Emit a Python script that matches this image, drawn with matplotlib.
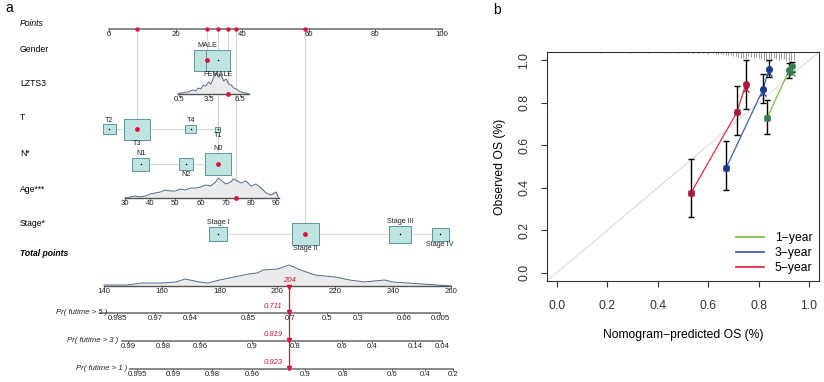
import numpy as np
import matplotlib
matplotlib.use("Agg")
import matplotlib.pyplot as plt
from matplotlib.patches import Rectangle
from matplotlib.lines import Line2D

plt.rcParams['font.family'] = ['Liberation Sans', 'DejaVu Sans']

# ---------------- panel a: nomogram data ----------------
points_ticks = [0, 20, 40, 60, 80, 100]

gender_levels = ['MALE', 'FEMALE']
gender_pts = [29.4, 32.7]
gender_w = [25, 24]
gender_h = [21, 21]
gender_pick = 'MALE'

lzts3_grid = [0.4, 0.65, 0.9, 1.15, 1.4, 1.65, 1.9, 2.15, 2.4, 2.65, 2.9, 3.15, 3.4, 3.65,
              3.9, 4.15, 4.4, 4.65, 4.9, 5.15, 5.4, 5.65, 5.9, 6.15, 6.4, 6.65, 6.9, 7.15, 7.4]
lzts3_dens = [0, 1, 1, 2, 2, 3, 4, 3, 6, 5, 9, 8, 12, 10, 16, 21, 17, 19, 13, 15, 10, 9, 6, 5,
              3, 2, 1, 1, 0]
lzts3_ticks = [0.5, 3.5, 6.5]
lzts3_anchor_val = [0.5, 6.5]
lzts3_anchor_pts = [21.0, 39.3]
lzts3_pick = 5.3

t_levels = ['T2', 'T3', 'T4', 'T1']
t_pts = [0.0, 8.4, 24.6, 32.7]
t_w = [13, 26, 11, 5]
t_h = [10, 21, 8, 5]
t_pick = 'T3'

n_levels = ['N1', 'N2', 'N0']
n_pts = [9.6, 23.1, 32.7]
n_w = [17, 14, 26]
n_h = [13, 12, 22]
n_pick = 'N0'

age_grid = [30, 32, 34, 36, 38, 40, 42, 44, 46, 48, 50, 52, 54, 56, 58, 60, 62, 64, 66, 67, 68,
            70, 72, 73, 74, 76, 78, 80, 82, 84, 86, 88, 90, 91]
age_dens = [0, 1, 2, 1, 2, 4, 5, 6, 8, 7, 7, 9, 8, 10, 10, 11, 13, 12, 16, 20, 18, 14, 16, 19,
            18, 15, 17, 12, 14, 10, 5, 3, 6, 0]
age_ticks = [30, 40, 50, 60, 70, 80, 90]
age_anchor_val = [30, 90]
age_anchor_pts = [4.8, 50.2]
age_pick = 74.2

stage_levels = ['Stage I', 'Stage II', 'Stage III', 'Stage IV']
stage_pts = [32.7, 59.0, 87.4, 99.4]
stage_w = [18, 27, 22, 17]
stage_h = [14, 22, 17, 13]
stage_pick = 'Stage II'

total_grid = [140, 145, 148, 153, 160, 165, 168, 173, 176, 180, 185, 190, 193, 195, 200, 204,
              208, 213, 220, 225, 230, 237, 240, 250, 260]
total_dens = [1, 1, 1, 3, 3, 4, 7, 4, 3, 6, 9, 12, 13, 16, 17, 21, 16, 11, 9, 6, 4, 6, 4, 2, 0]
total_ticks = [140, 160, 180, 200, 220, 240, 260]
total_anchor_val = [140, 260]
total_anchor_pts = [-1.5, 102.7]
total_pick = 204

pr5_labels = ['0.985', '0.97', '0.94', '0.85', '0.7', '0.5', '0.3', '0.06', '0.005']
pr5_at = [144.5, 157.6, 169.7, 189.8, 204.3, 217.1, 227.8, 243.7, 256.2]
pr5_range = [138.6, 256.2]
pr5_pick = '0.711'

pr3_labels = ['0.99', '0.98', '0.96', '0.9', '0.8', '0.6', '0.4', '0.14', '0.04']
pr3_at = [148.3, 160.4, 173.2, 191.2, 206.0, 222.3, 232.7, 247.5, 256.9]
pr3_range = [146.2, 256.9]
pr3_pick = '0.819'

pr1_labels = ['0.995', '0.99', '0.98', '0.96', '0.9', '0.8', '0.6', '0.4', '0.2']
pr1_at = [151.4, 163.9, 177.3, 191.2, 209.5, 222.6, 239.6, 251.0, 260.7]
pr1_range = [149.0, 260.7]
pr1_pick = '0.923'

# ---------------- panel b: calibration data ----------------
pred_1y = [0.833, 0.921, 0.933]
obs_1y = [0.727, 0.953, 0.972]
lo_1y = [0.652, 0.916, 0.944]
hi_1y = [0.815, 0.990, 0.995]
bc_1y = [0.727, 0.948, 0.940]

pred_3y = [0.671, 0.818, 0.841]
obs_3y = [0.493, 0.864, 0.958]
lo_3y = [0.390, 0.800, 0.920]
hi_3y = [0.620, 0.934, 1.000]
bc_3y = [0.493, 0.845, 0.939]

pred_5y = [0.532, 0.714, 0.750]
obs_5y = [0.376, 0.756, 0.890]
lo_5y = [0.263, 0.650, 0.770]
hi_5y = [0.535, 0.880, 1.000]
bc_5y = [0.376, 0.756, 0.864]

rug_x = [0.17, 0.29, 0.36, 0.44, 0.48, 0.52, 0.54, 0.56, 0.58, 0.60, 0.62, 0.63, 0.64, 0.65,
         0.66, 0.67, 0.68, 0.69, 0.70, 0.71, 0.72, 0.73, 0.74, 0.75, 0.76, 0.77, 0.78, 0.79,
         0.80, 0.81, 0.82, 0.83, 0.84, 0.85, 0.86, 0.87, 0.88, 0.89, 0.90, 0.91, 0.92, 0.93, 0.94]
rug_h = [0.005, 0.005, 0.005, 0.005, 0.005, 0.005, 0.005, 0.005, 0.005, 0.009, 0.005, 0.009,
         0.009, 0.009, 0.009, 0.014, 0.014, 0.014, 0.019, 0.019, 0.023, 0.028, 0.028, 0.033,
         0.019, 0.023, 0.028, 0.023, 0.028, 0.033, 0.038, 0.047, 0.061, 0.042, 0.028, 0.033,
         0.038, 0.028, 0.033, 0.042, 0.052, 0.061, 0.038]

# ---------------- style ----------------
RED = '#D7143C'
BOX_FC = '#BFE3DF'
BOX_EC = '#5B95A0'
GUIDE = '#D6D6D6'
AXC = '#7F7F7F'
DENS_LINE = '#4C6A92'
DENS_FILL = '#EBEBEB'
FS_ROW = 6.2
FS_TICK = 5.6
FS_CAT = 5.2

fig = plt.figure(figsize=(8.24, 3.82), dpi=100)

# nomogram axes: x in "points" units, y in pixel rows
PX = 3.33
X0 = 109
ax = fig.add_axes([0, 0, 478 / 824, 1])
ax.set_xlim(-X0 / PX, (478 - X0) / PX)
ax.set_ylim(382, 0)
ax.axis('off')

LABEL_X = (20 - X0) / PX
y_points, y_gender, y_lzts3, y_t, y_n, y_age, y_stage = 29, 60, 94, 129, 164, 198, 234
y_total, y_pr5, y_pr3, y_pr1 = 286, 313, 341, 369


def lin(vals, anchor_val, anchor_pts):
    v = np.asarray(vals, dtype=float)
    slope = (anchor_pts[1] - anchor_pts[0]) / (anchor_val[1] - anchor_val[0])
    return anchor_pts[0] + (v - anchor_val[0]) * slope


def row_label(y, text, **kw):
    ax.text(LABEL_X, y, text, fontsize=FS_ROW, va='center', ha='left', **kw)


def guide(x, y):
    ax.plot([x, x], [y_points, y], color=GUIDE, lw=0.8, zorder=0)
    ax.scatter([x], [y_points], s=10, color=RED, zorder=5, linewidths=0)


def box_row(levels, pts, w, h, y, pick):
    ax.plot([min(pts), max(pts)], [y, y], color='#DADADA', lw=0.8, zorder=1)
    order = np.argsort(pts)
    for rank, i in enumerate(order):
        bw = w[i] / PX
        ax.add_patch(Rectangle((pts[i] - bw / 2, y - h[i] / 2), bw, h[i], fc=BOX_FC,
                               ec=BOX_EC, lw=0.7, zorder=2))
        if levels[i] == pick:
            ax.scatter([pts[i]], [y], s=12, color=RED, zorder=4, linewidths=0)
            guide(pts[i], y)
        else:
            ax.scatter([pts[i]], [y], s=1.2, color='black', zorder=4, linewidths=0)
        if rank % 2 == 0:
            ax.text(pts[i], y - h[i] / 2 - 0.5, levels[i], fontsize=FS_CAT, ha='center',
                    va='bottom', color='#222222')
        else:
            ax.text(pts[i], y + h[i] / 2 + 0.5, levels[i], fontsize=FS_CAT, ha='center',
                    va='top', color='#222222')


def density_row(grid, dens, ticks, anchor_val, anchor_pts, y, pick=None):
    x = lin(grid, anchor_val, anchor_pts)
    top = y - np.asarray(dens, dtype=float)
    ax.fill_between(x, top, y, color=DENS_FILL, lw=0, zorder=1)
    ax.plot(x, top, color=DENS_LINE, lw=0.7, zorder=2)
    ax.plot([x.min(), x.max()], [y, y], color='#555555', lw=1.0, zorder=2)
    tx = lin(ticks, anchor_val, anchor_pts)
    for xv, lab in zip(tx, ticks):
        ax.plot([xv, xv], [y, y + 2], color='#555555', lw=0.6)
        ax.text(xv, y + 2, str(lab), fontsize=FS_TICK, ha='center', va='top', color='#222222')
    if pick is not None:
        px_ = lin([pick], anchor_val, anchor_pts)[0]
        ax.scatter([px_], [y], s=12, color=RED, zorder=5, linewidths=0)
        guide(px_, y)


def prob_row(labels, at, rng, y, title, pick):
    xr = lin(rng, total_anchor_val, total_anchor_pts)
    ax.plot(xr, [y, y], color=AXC, lw=1.3, zorder=1)
    tx = lin(at, total_anchor_val, total_anchor_pts)
    for xv, lab in zip(tx, labels):
        ax.plot([xv, xv], [y, y + 2], color='#555555', lw=0.6)
        ax.text(xv, y + 1.5, lab, fontsize=FS_TICK, ha='center', va='top', color='#222222')
    # title ends just before the first tick label
    ax.text(tx[0] - 9.5 / PX, y - 1, title, fontsize=FS_TICK, ha='right', va='center',
            style='italic', color='#222222')
    xp = lin([total_pick], total_anchor_val, total_anchor_pts)[0]
    ax.text(xp - 2, y - 6, pick, fontsize=FS_TICK, ha='right', va='center', style='italic',
            color=RED)
    ax.plot([xp], [y - 1], marker='v', ms=3, color=RED, zorder=6)


# points scale
ax.plot([0, 100], [y_points, y_points], color=AXC, lw=1.3)
for v in points_ticks:
    ax.plot([v, v], [y_points, y_points + 2.5], color='#555555', lw=0.6)
    ax.text(v, y_points + 1.5, str(v), fontsize=FS_TICK, ha='center', va='top', color='#222222')
row_label(24, 'Points', style='italic')

row_label(49, 'Gender')
box_row(gender_levels, gender_pts, gender_w, gender_h, y_gender, gender_pick)

row_label(84, 'LZTS3')
density_row(lzts3_grid, lzts3_dens, lzts3_ticks, lzts3_anchor_val, lzts3_anchor_pts,
            y_lzts3, lzts3_pick)

row_label(118, 'T')
box_row(t_levels, t_pts, t_w, t_h, y_t, t_pick)

row_label(153, 'N*')
box_row(n_levels, n_pts, n_w, n_h, y_n, n_pick)

row_label(189, 'Age***')
density_row(age_grid, age_dens, age_ticks, age_anchor_val, age_anchor_pts, y_age, age_pick)

row_label(223, 'Stage*')
box_row(stage_levels, stage_pts, stage_w, stage_h, y_stage, stage_pick)

row_label(254, 'Total points', style='italic', fontweight='bold')
density_row(total_grid, total_dens, total_ticks, total_anchor_val, total_anchor_pts, y_total)

x_tot = lin([total_pick], total_anchor_val, total_anchor_pts)[0]
ax.plot([x_tot, x_tot], [y_total, y_pr1], color=RED, lw=0.9, zorder=5)
ax.plot([x_tot], [y_total + 1], marker='v', ms=3, color=RED, zorder=6)
ax.text(x_tot, y_total - 5, str(total_pick), fontsize=FS_TICK, ha='center', va='center',
        style='italic', color=RED)

prob_row(pr5_labels, pr5_at, pr5_range, y_pr5, 'Pr( futime > 5 )', pr5_pick)
prob_row(pr3_labels, pr3_at, pr3_range, y_pr3, 'Pr( futime > 3 )', pr3_pick)
prob_row(pr1_labels, pr1_at, pr1_range, y_pr1, 'Pr( futime > 1 )', pr1_pick)

fig.text(5 / 824, 1 - 8 / 382, 'a', fontsize=10, ha='left', va='center')

# ---------------- panel b ----------------
axb = fig.add_axes([547 / 824, (382 - 281) / 382, 272 / 824, 229 / 382])
axb.set_xlim(-0.04, 1.04)
axb.set_ylim(-0.04, 1.04)
axb.plot([-0.04, 1.04], [-0.04, 1.04], color='#DCDCDC', lw=0.8, zorder=1)
axb.vlines(rug_x, [1.04 - h for h in rug_h], 1.04, color='#8C8C8C', lw=0.6, zorder=2)

series = [
    (pred_1y, obs_1y, lo_1y, hi_1y, bc_1y, '#7FBF3F', '#3C7F4F', '1\u2212year'),
    (pred_3y, obs_3y, lo_3y, hi_3y, bc_3y, '#3F62A8', '#1F3A90', '3\u2212year'),
    (pred_5y, obs_5y, lo_5y, hi_5y, bc_5y, '#E0303F', '#A8183C', '5\u2212year'),
]
handles = []
for pr, ob, lo, hi, bc, lc, mc, lab in series:
    axb.plot(pr, ob, color=lc, lw=0.9, zorder=3)
    ob_a = np.asarray(ob)
    axb.errorbar(pr, ob, yerr=[ob_a - np.asarray(lo), np.asarray(hi) - ob_a], fmt='none',
                 ecolor='black', elinewidth=1.0, capsize=2.2, capthick=1.0, zorder=4)
    axb.plot(pr, ob, 'o', ms=4, color=mc, zorder=5)
    axb.plot(pr, bc, 'x', ms=4, mew=0.9, color=mc, zorder=5)
    handles.append(Line2D([0], [0], color=lc, lw=1.3, label=lab))

axb.legend(handles=handles, loc='lower right', frameon=False, fontsize=8.7,
           handlelength=2.3, handletextpad=0.9, labelspacing=0.25,
           borderaxespad=0.15)

ticks_b = [0.0, 0.2, 0.4, 0.6, 0.8, 1.0]
axb.set_xticks(ticks_b)
axb.set_yticks(ticks_b)
axb.set_xticklabels([f'{t:.1f}' for t in ticks_b])
axb.set_yticklabels([f'{t:.1f}' for t in ticks_b], rotation=90, va='center')
axb.tick_params(direction='out', length=4, width=0.8, labelsize=8.7, colors='#333333')
axb.tick_params(axis='x', pad=10)
axb.tick_params(axis='y', pad=8)
for sp in axb.spines.values():
    sp.set_linewidth(0.8)
    sp.set_color('#333333')
axb.set_xlabel('Nomogram\u2212predicted OS (%)', fontsize=8.7, labelpad=12)
axb.set_ylabel('Observed OS (%)', fontsize=8.7, labelpad=9)

fig.text(497 / 824, 1 - 10 / 382, 'b', fontsize=10, ha='center', va='center')

fig.savefig('out.png', dpi=100)
